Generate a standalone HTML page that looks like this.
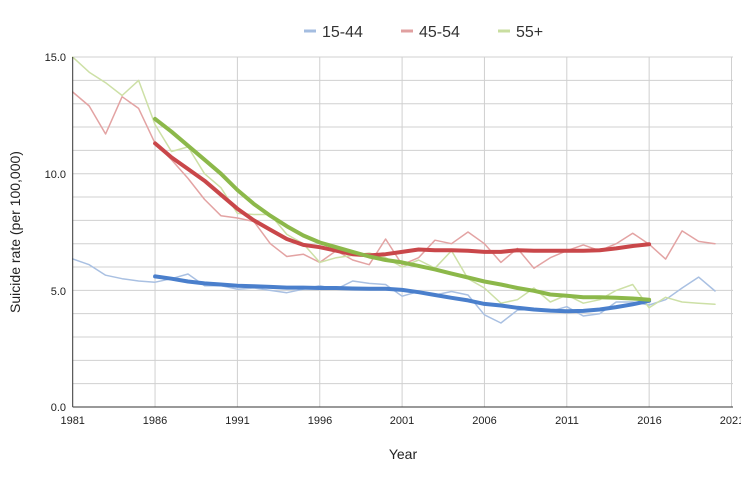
<!DOCTYPE html>
<html><head><meta charset="utf-8"><style>
body{margin:0;background:#fff;}
svg{display:block;font-family:"Liberation Sans",Arial,sans-serif;}
</style></head><body>
<svg id="s" width="741" height="486" viewBox="0 0 741 486">
<g id="grid" stroke="#d0d0d0" stroke-width="1"></g>
<g id="series" fill="none" stroke-linejoin="round" stroke-linecap="round"></g>
<line x1="72.7" y1="407" x2="733" y2="407" stroke="#333" stroke-width="1"/>
<line x1="72.7" y1="57" x2="72.7" y2="407" stroke="#333" stroke-width="1"/>
<g font-size="11" fill="#222" text-anchor="end">
<text x="66" y="61">15.0</text><text x="66" y="178">10.0</text><text x="66" y="295">5.0</text><text x="66" y="411">0.0</text>
</g>
<g font-size="11" fill="#222" text-anchor="middle">
<text x="72.7" y="424">1981</text><text x="155" y="424">1986</text><text x="237.5" y="424">1991</text><text x="320" y="424">1996</text><text x="402" y="424">2001</text><text x="484.5" y="424">2006</text><text x="567" y="424">2011</text><text x="649.5" y="424">2016</text><text x="732" y="424">2021</text>
</g>
<text x="403" y="459" font-size="14" fill="#222" text-anchor="middle">Year</text>
<text transform="translate(20,232) rotate(-90)" font-size="14" fill="#222" text-anchor="middle">Suicide rate (per 100,000)</text>
<g font-size="16" fill="#333">
<line x1="304" y1="31" x2="316" y2="31" stroke="#a4bde0" stroke-width="3"/><text x="322" y="37">15-44</text>
<line x1="401" y1="31" x2="413" y2="31" stroke="#e0a0a0" stroke-width="3"/><text x="419" y="37">45-54</text>
<line x1="498" y1="31" x2="510" y2="31" stroke="#c9dea0" stroke-width="3"/><text x="516" y="37">55+</text>
</g>
</svg>
<script>
var X=function(y){return 72.7+(y-1981)*16.47},Y=function(v){return 407-23.33*v};
var g=document.getElementById('grid'),h='';
for(var i=1;i<=15;i++)h+='<line x1="72.7" x2="733" y1="'+Y(i)+'" y2="'+Y(i)+'"/>';
for(var y=1986;y<=2021;y+=5)h+='<line y1="57" y2="407" x1="'+X(y)+'" x2="'+X(y)+'"/>';
g.innerHTML=h;
function P(start,arr,col,w){var d=arr.map(function(v,i){return (i?'L':'M')+X(start+i).toFixed(1)+' '+Y(v).toFixed(1)}).join('');return '<path d="'+d+'" stroke="'+col+'" stroke-width="'+w+'"/>';}
var bt=[6.35,6.1,5.65,5.5,5.4,5.35,5.5,5.7,5.2,5.2,5.05,5.1,5.0,4.9,5.05,5.2,5.05,5.4,5.3,5.25,4.75,4.95,4.8,4.95,4.8,3.95,3.6,4.15,4.2,4.1,4.3,3.9,4.0,4.5,4.5,4.37,4.6,5.1,5.57,4.97];
var rt=[13.5,12.9,11.7,13.3,12.8,11.3,10.6,9.8,8.9,8.2,8.1,7.95,7.0,6.45,6.55,6.2,6.7,6.3,6.1,7.2,6.1,6.4,7.15,7.0,7.5,7.0,6.2,6.8,5.95,6.4,6.7,6.95,6.7,7.0,7.45,6.98,6.34,7.55,7.1,7.0];
var gt=[15.0,14.35,13.9,13.35,14.0,12.1,10.95,11.15,10.0,9.4,8.3,8.25,8.25,7.4,7.0,6.2,6.4,6.5,6.6,6.4,6.0,6.3,5.95,6.7,5.5,5.1,4.45,4.6,5.1,4.5,4.8,4.45,4.6,5.0,5.25,4.25,4.7,4.5,4.45,4.4];
var bT=[5.6,5.5,5.38,5.3,5.25,5.2,5.18,5.15,5.12,5.12,5.1,5.1,5.08,5.07,5.07,5.02,4.92,4.8,4.68,4.57,4.42,4.35,4.25,4.18,4.13,4.1,4.12,4.18,4.28,4.4,4.55];
var rT=[11.3,10.7,10.2,9.7,9.1,8.5,8.0,7.6,7.2,6.95,6.85,6.7,6.55,6.5,6.55,6.65,6.75,6.72,6.72,6.7,6.65,6.65,6.72,6.7,6.7,6.7,6.7,6.72,6.8,6.9,6.98];
var gT=[12.35,11.8,11.2,10.6,10.0,9.3,8.7,8.2,7.75,7.35,7.05,6.85,6.65,6.45,6.3,6.2,6.05,5.9,5.72,5.55,5.38,5.25,5.1,4.98,4.82,4.77,4.7,4.7,4.68,4.65,4.6];
document.getElementById('series').innerHTML=
P(1981,bt,'#a9c0e2',1.5)+P(1981,rt,'#e3a3a3',1.5)+P(1981,gt,'#cde0a6',1.5)+
P(1986,bT,'#4a7fcc',4)+P(1986,rT,'#c9474a',4)+P(1986,gT,'#8cb84a',4);
</script>
</body></html>
